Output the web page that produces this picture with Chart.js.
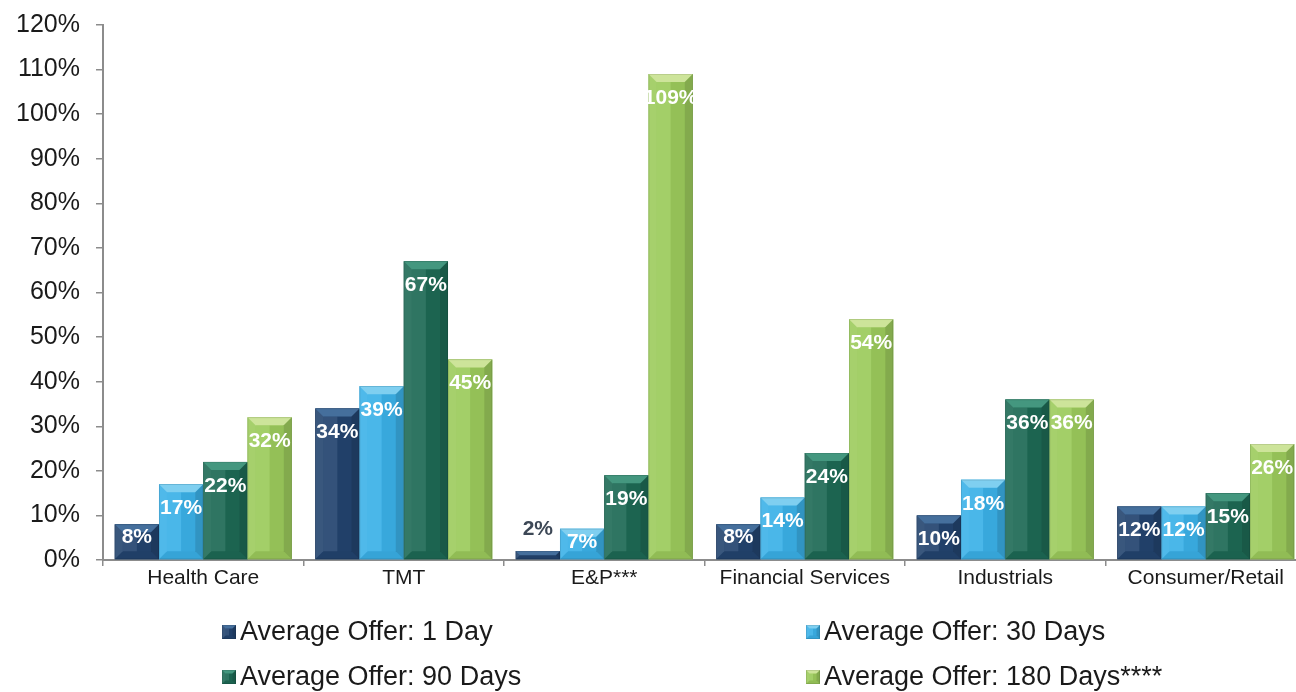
<!DOCTYPE html>
<html>
<head>
<meta charset="utf-8">
<script src="https://cdn.jsdelivr.net/npm/chart.js@4.4.1/dist/chart.umd.min.js"></script>
<style>
  html, body { margin: 0; padding: 0; background: #fff; overflow: hidden; }
  #wrap { width: 1306px; height: 692px; }
</style>
</head>
<body>
<div id="wrap"><canvas id="offerChart"></canvas></div>
<script>
  const categories = ['Health Care', 'TMT', 'E&P***', 'Financial Services', 'Industrials', 'Consumer/Retail'];
  const seriesNames = ['Average Offer: 1 Day', 'Average Offer: 30 Days', 'Average Offer: 90 Days', 'Average Offer: 180 Days****'];
  const day1 = [8, 34, 2, 8, 10, 12];
  const day30 = [17, 39, 7, 14, 18, 12];
  const day90 = [22, 67, 19, 24, 36, 15];
  const day180 = [32, 45, 109, 54, 36, 26];
  const yMax = 120;
  const yStep = 10;

  const baseColors = ['#23446f', '#3bb1e8', '#1e6a55', '#9ccb5c'];
  const lightColors = ['#456f9c', '#7fcff0', '#44977f', '#cde49a'];

  const FONT = '"Liberation Sans", Arial, sans-serif';

  function bevel(c, x0, y0, x1, y1, i) {
    const w = x1 - x0, h = y1 - y0;
    if (h <= 0) return;
    const b = Math.min(8, w / 4, h / 2);
    c.save();
    c.fillStyle = baseColors[i];
    c.fillRect(x0, y0, w, h);
    // inner face: left half a touch lighter, right half a touch darker
    c.fillStyle = 'rgba(255,255,255,0.08)';
    c.fillRect(x0 + b, y0 + b, (w - 2 * b) / 2, h - 2 * b);
    c.fillStyle = 'rgba(0,0,0,0.05)';
    c.fillRect(x0 + w / 2, y0 + b, (w - 2 * b) / 2, h - 2 * b);
    const poly = (pts, fill) => {
      c.beginPath();
      c.moveTo(pts[0][0], pts[0][1]);
      for (let k = 1; k < pts.length; k++) c.lineTo(pts[k][0], pts[k][1]);
      c.closePath();
      c.fillStyle = fill;
      c.fill();
    };
    poly([[x0, y0], [x1, y0], [x1 - b, y0 + b], [x0 + b, y0 + b]], lightColors[i]);
    poly([[x0, y0], [x0 + b, y0 + b], [x0 + b, y1 - b], [x0, y1]], 'rgba(255,255,255,0.10)');
    poly([[x1, y0], [x1, y1], [x1 - b, y1 - b], [x1 - b, y0 + b]], 'rgba(0,0,0,0.16)');
    poly([[x0, y1], [x0 + b, y1 - b], [x1 - b, y1 - b], [x1, y1]], 'rgba(0,0,0,0.07)');
    c.strokeStyle = 'rgba(0,0,0,0.12)';
    c.lineWidth = 0.8;
    c.strokeRect(x0 + 0.4, y0 + 0.4, w - 0.8, h - 0.8);
    c.restore();
  }

  const bevelBars = {
    id: 'bevelBars',
    afterDatasetsDraw(chart) {
      const c = chart.ctx;
      chart.data.datasets.forEach((ds, i) => {
        const meta = chart.getDatasetMeta(i);
        meta.data.forEach((el) => {
          const p = el.getProps(['x', 'y', 'base', 'width'], true);
          const x0 = p.x - p.width / 2, x1 = p.x + p.width / 2;
          bevel(c, x0, Math.min(p.y, p.base), x1, Math.max(p.y, p.base), i);
        });
      });
      // value labels
      c.save();
      c.font = 'bold 21px ' + FONT;
      c.textAlign = 'center';
      c.textBaseline = 'middle';
      chart.data.datasets.forEach((ds, i) => {
        const meta = chart.getDatasetMeta(i);
        meta.data.forEach((el, j) => {
          const p = el.getProps(['x', 'y', 'base', 'width'], true);
          const h = p.base - p.y;
          const label = ds.data[j] + '%';
          if (h < 20) {
            c.fillStyle = '#3d4856';
            c.fillText(label, p.x, p.y - 22);
          } else {
            c.fillStyle = '#ffffff';
            c.fillText(label, p.x, p.y + (h < 40 ? 13 : 24));
          }
        });
      });
      c.restore();
    },
    afterDraw(chart) {
      const c = chart.ctx;
      const cols = [222, 806];
      const rows = [632, 677];
      c.save();
      c.font = '27px ' + FONT;
      c.textAlign = 'left';
      c.textBaseline = 'middle';
      chart.data.datasets.forEach((ds, i) => {
        const x = cols[i % 2], y = rows[Math.floor(i / 2)];
        bevel(c, x, y - 7, x + 14, y + 7, i);
        c.fillStyle = '#1a1a1a';
        c.fillText(ds.label, x + 18, y + 1);
      });
      c.restore();
    }
  };

  const seriesData = [day1, day30, day90, day180];

  new Chart(document.getElementById('offerChart'), {
    type: 'bar',
    data: {
      labels: categories,
      datasets: seriesNames.map((name, i) => ({
        label: name,
        data: seriesData[i],
        backgroundColor: baseColors[i],
        borderWidth: 0,
        categoryPercentage: 0.883,
        barPercentage: 1.0
      }))
    },
    options: {
      responsive: true,
      maintainAspectRatio: false,
      animation: false,
      layout: { padding: { top: 25, right: 0, left: 0, bottom: 0 } },
      plugins: {
        legend: { display: false },
        tooltip: { enabled: false }
      },
      scales: {
        x: {
          grid: { display: true, drawOnChartArea: false, drawTicks: true, tickLength: 6, color: '#8c8c8c', lineWidth: 1.5, offset: true },
          border: { display: true, color: '#8c8c8c', width: 2 },
          ticks: { color: '#1a1a1a', font: { family: FONT, size: 21 }, padding: 0, maxRotation: 0, autoSkip: false },
          afterFit(scale) { scale.height = 132; scale.paddingLeft = 0; scale.paddingRight = 0; }
        },
        y: {
          min: 0,
          max: yMax,
          grid: { display: true, drawOnChartArea: false, drawTicks: true, tickLength: 7, color: '#8c8c8c', lineWidth: 1.5 },
          border: { display: true, color: '#8c8c8c', width: 2 },
          ticks: { stepSize: yStep, color: '#1a1a1a', font: { family: FONT, size: 25 }, padding: 16, callback: v => v + '%' },
          afterFit(scale) { scale.width = 103; scale.paddingTop = 0; scale.paddingBottom = 0; }
        }
      }
    },
    plugins: [bevelBars]
  });
</script>
</body>
</html>
